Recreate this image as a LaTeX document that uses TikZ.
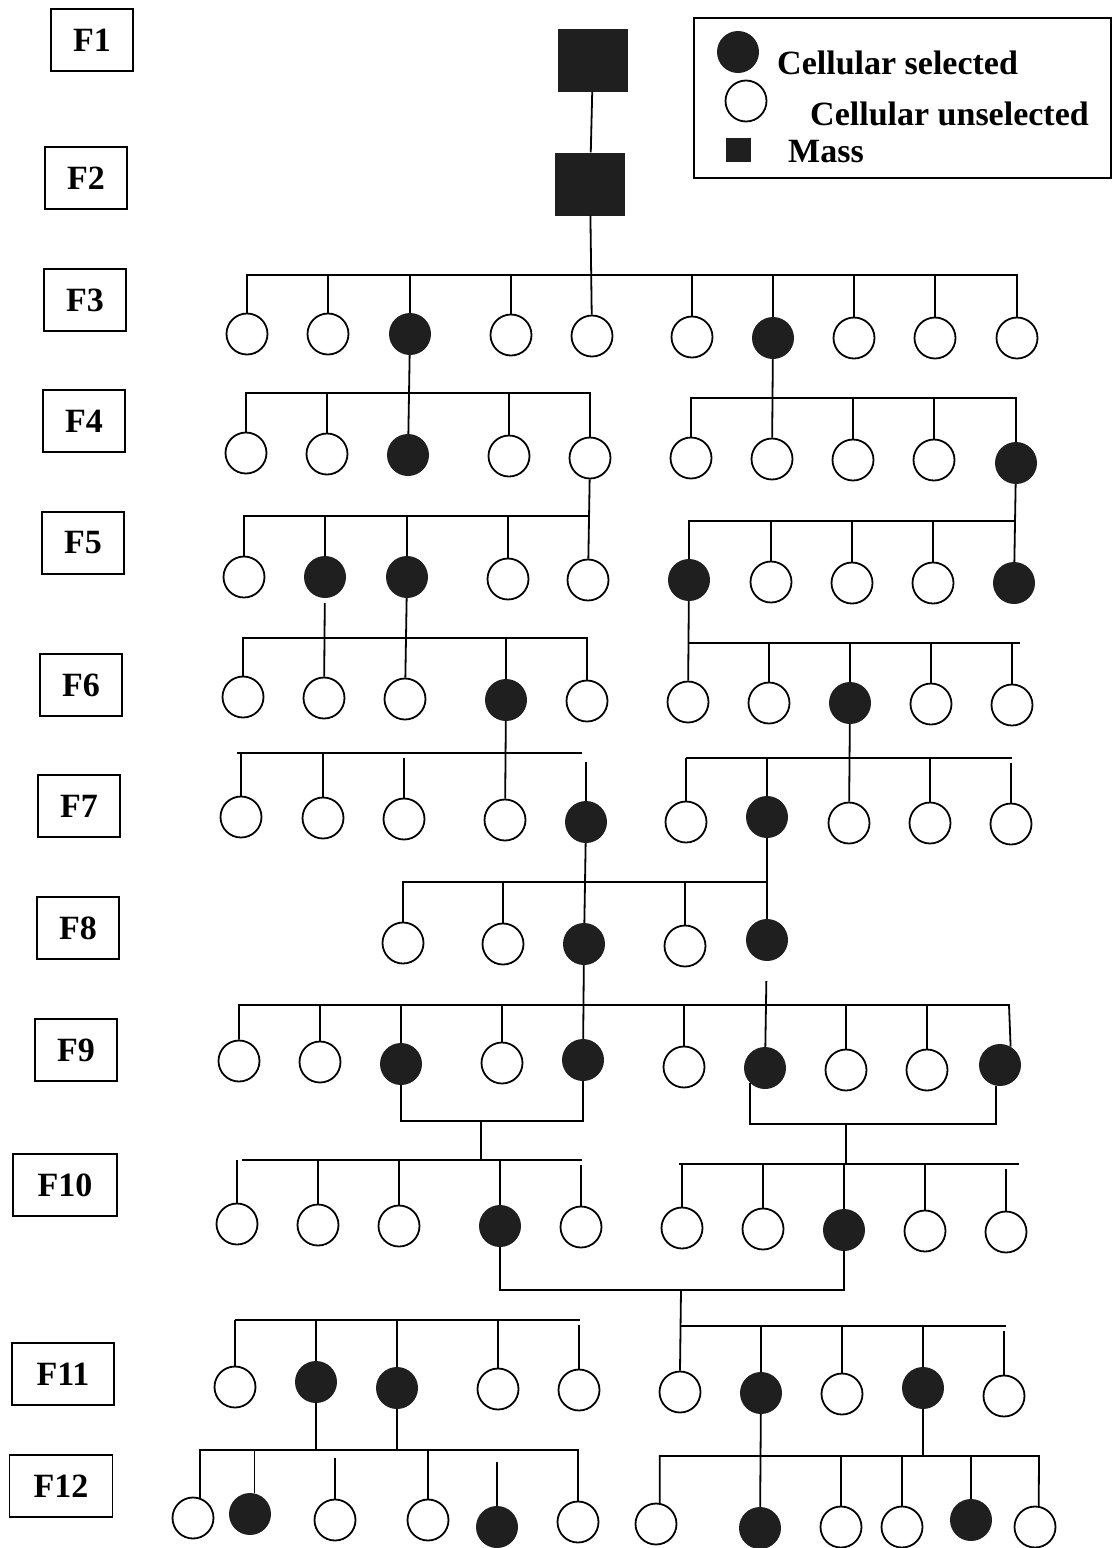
\documentclass[tikz,border=0pt]{standalone}
\usepackage{fontspec}
\setmainfont{Liberation Serif}
\usepackage{tikz}
\tikzset{
  gen/.style={draw, line width=1.8pt, minimum width=82pt, minimum height=62pt, inner sep=0pt, font=\fontsize{34}{40}\selectfont\bfseries},
  sel/.style={circle, fill=black!88, minimum size=42pt, inner sep=0pt},
  uns/.style={circle, draw, line width=1.8pt, fill=white, minimum size=41pt, inner sep=0pt},
  mass/.style={fill=black!88, minimum width=70pt, minimum height=63pt, inner sep=0pt},
  legbox/.style={draw, line width=1.8pt, minimum width=417pt, minimum height=160pt, inner sep=0pt},
  legtxt/.style={anchor=base west, inner sep=0pt, font=\fontsize{34}{40}\selectfont\bfseries},
  link/.style={line width=1.8pt},
  gapstem/.style={link, shorten >=5pt},
}

\begin{document}
\begin{tikzpicture}[x=1pt, y=-1pt]
\useasboundingbox (0,0) rectangle (1113,1548);
% generation labels
\node[gen] (f1) at (92,40) {F1};
\node[gen] (f2) at (86,178) {F2};
\node[gen] (f3) at (85,300) {F3};
\node[gen] (f4) at (84,421) {F4};
\node[gen] (f5) at (83,543) {F5};
\node[gen] (f6) at (81,685) {F6};
\node[gen] (f7) at (79,806) {F7};
\node[gen] (f8) at (78,928) {F8};
\node[gen] (f9) at (76,1050) {F9};
\node[gen, minimum width=104pt] (f10) at (65,1185) {F10};
\node[gen, minimum width=102pt] (f11) at (63,1374) {F11};
\node[gen, minimum width=103pt] (f12) at (61,1486) {F12};
% legend
\node[legbox] (leg) at (902.5,98) {};
\node[sel] (lsel) at (738,52) {};
\node[uns] (luns) at (746,101) {};
\node[fill=black!88, minimum width=25pt, minimum height=24pt, inner sep=0pt] (lmass) at (738,150) {};
\node[legtxt] (tsel) at (777,74) {Cellular selected};
\node[legtxt] (tuns) at (810,125) {Cellular unselected};
\node[legtxt] (tmass) at (788,162) {Mass};
% F1, F2
\node[mass] (m1) at (593,60) {};
\node[mass] (m2) at (590,184) {};
\draw[link] (m1) -- (m2);
% F3
\node[uns] (c3a) at (247,334) {};
\node[uns] (c3b) at (328,334) {};
\node[sel] (c3c) at (410,334) {};
\node[uns] (c3d) at (511,335) {};
\node[uns] (c3e) at (592,336) {};
\node[uns] (c3f) at (692,337) {};
\node[sel] (c3g) at (773,338) {};
\node[uns] (c3h) at (854,338) {};
\node[uns] (c3i) at (935,338) {};
\node[uns] (c3j) at (1017,338) {};
\coordinate (b3) at (592,275);
\draw[link] (c3a.north) |- (b3) -| (c3j.north);
\draw[link] (m2) -- (c3e);
\draw[link] (c3b.north) -- (c3b.north |- b3) (c3c.north) -- (c3c.north |- b3) (c3d.north) -- (c3d.north |- b3)
  (c3f.north) -- (c3f.north |- b3) (c3g.north) -- (c3g.north |- b3) (c3h.north) -- (c3h.north |- b3) (c3i.north) -- (c3i.north |- b3);
% F4
\node[uns] (c4a) at (246,453) {};
\node[uns] (c4b) at (327,454) {};
\node[sel] (c4c) at (408,455) {};
\node[uns] (c4d) at (509,456) {};
\node[uns] (c4e) at (590,458) {};
\node[uns] (c4f) at (691,458) {};
\node[uns] (c4g) at (772,459) {};
\node[uns] (c4h) at (853,460) {};
\node[uns] (c4i) at (934,460) {};
\node[sel] (c4j) at (1016,463) {};
\coordinate (b4l) at (408,393);
\coordinate (b4r) at (772,398);
\draw[link] (c4a.north) |- (b4l) -| (c4e.north);
\draw[link] (c4f.north) |- (b4r) -| (c4j.north);
\draw[link] (c3c) -- (c4c);
\draw[link] (c3g) -- (c4g);
\draw[link] (c4b.north) -- (c4b.north |- b4l) (c4d.north) -- (c4d.north |- b4l)
  (c4h.north) -- (c4h.north |- b4r) (c4i.north) -- (c4i.north |- b4r);
% F5
\node[uns] (c5a) at (244,577) {};
\node[sel] (c5b) at (325,577) {};
\node[sel] (c5c) at (407,577) {};
\node[uns] (c5d) at (508,579) {};
\node[uns] (c5e) at (588,580) {};
\node[sel] (c5f) at (689,580) {};
\node[uns] (c5g) at (771,582) {};
\node[uns] (c5h) at (852,583) {};
\node[uns] (c5i) at (933,583) {};
\node[sel] (c5j) at (1014,583) {};
\coordinate (b5l) at (588,516);
\coordinate (b5r) at (1014,521);
\draw[link] (c5a.north) |- (b5l);
\draw[link] (c5f.north) |- (b5r);
\draw[link] (c4e) -- (c5e);
\draw[link] (c4j) -- (c5j);
\draw[link] (c5b.north) -- (c5b.north |- b5l) (c5c.north) -- (c5c.north |- b5l) (c5d.north) -- (c5d.north |- b5l)
  (c5g.north) -- (c5g.north |- b5r) (c5h.north) -- (c5h.north |- b5r) (c5i.north) -- (c5i.north |- b5r);
% F6
\node[uns] (c6a) at (243,697) {};
\node[uns] (c6b) at (324,698) {};
\node[uns] (c6c) at (405,699) {};
\node[sel] (c6d) at (506,700) {};
\node[uns] (c6e) at (587,701) {};
\node[uns] (c6f) at (688,702) {};
\node[uns] (c6g) at (769,703) {};
\node[sel] (c6h) at (850,703) {};
\node[uns] (c6i) at (931,704) {};
\node[uns] (c6j) at (1012,705) {};
\coordinate (b6l) at (587,638);
\coordinate (b6r) at (1020,643);
\draw[link] (c6a.north) |- (b6l) -- (c6e.north);
\draw[link] (c6f.north |- b6r) -- (b6r);
\draw[link, shorten <=5pt] (c5b) -- (c6b);
\draw[link] (c5c) -- (c6c);
\draw[link] (c5f) -- (c6f);
\draw[link] (c6d.north) -- (c6d.north |- b6l)
  (c6g.north) -- (c6g.north |- b6r) (c6h.north) -- (c6h.north |- b6r) (c6i.north) -- (c6i.north |- b6r) (c6j.north) -- (c6j.north |- b6r);
% F7
\node[uns] (c7a) at (241,817) {};
\node[uns] (c7b) at (323,818) {};
\node[uns] (c7c) at (404,819) {};
\node[uns] (c7d) at (505,820) {};
\node[sel] (c7e) at (586,822) {};
\node[uns] (c7f) at (686,822) {};
\node[sel] (c7g) at (767,817) {};
\node[uns] (c7h) at (849,823) {};
\node[uns] (c7i) at (930,823) {};
\node[uns] (c7j) at (1011,824) {};
\coordinate (b7l) at (237,753);
\coordinate (b7le) at (582,753);
\coordinate (b7r) at (686,758);
\coordinate (b7re) at (1012,758);
\draw[link] (b7l) -- (b7le);
\draw[link] (b7r) -- (b7re);
\draw[link] (c6d) -- (c7d);
\draw[link] (c6h) -- (c7h);
\draw[gapstem] (c7a.north) -- (c7a.north |- b7l) (c7b.north) -- (c7b.north |- b7l) (c7c.north) -- (c7c.north |- b7l);
\draw[link, shorten >=9pt] (c7e.north) -- (c7e.north |- b7l);
\draw[gapstem] (c7f.north) -- (c7f.north |- b7r) (c7g.north) -- (c7g.north |- b7r) (c7i.north) -- (c7i.north |- b7r) (c7j.north) -- (c7j.north |- b7r);
% F8
\node[uns] (c8a) at (403,943) {};
\node[uns] (c8b) at (503,944) {};
\node[sel] (c8c) at (584,944) {};
\node[uns] (c8d) at (685,946) {};
\node[sel] (c8e) at (767,940) {};
\coordinate (b8e) at (767,882);
\draw[link] (c8a.north) |- (b8e);
\draw[link] (c7e) -- (c8c);
\draw[link] (c7g) -- (c8e);
\draw[link] (c8b.north) -- (c8b.north |- b8e) (c8d.north) -- (c8d.north |- b8e);
% F9
\node[uns] (c9a) at (239,1061) {};
\node[uns] (c9b) at (320,1062) {};
\node[sel] (c9c) at (401,1064) {};
\node[uns] (c9d) at (502,1063) {};
\node[sel] (c9e) at (583,1060) {};
\node[uns] (c9f) at (684,1067) {};
\node[sel] (c9g) at (765,1068) {};
\node[uns] (c9h) at (846,1070) {};
\node[uns] (c9i) at (927,1070) {};
\node[sel] (c9j) at (1000,1065) {};
\coordinate (b9) at (1009,1005);
\draw[link] (c9a.north) |- (b9) -- (c9j.60);
\draw[link] (c8c) -- (c9e);
\draw[link, shorten <=20pt] (c8e) -- (c9g);
\draw[link] (c9b.north) -- (c9b.north |- b9) (c9c.north) -- (c9c.north |- b9) (c9d.north) -- (c9d.north |- b9)
  (c9f.north) -- (c9f.north |- b9) (c9h.north) -- (c9h.north |- b9) (c9i.north) -- (c9i.north |- b9);
\coordinate (j9l) at (481,1121);
\coordinate (j9r) at (846,1124);
\draw[link] (c9c.south) |- (j9l) -| (c9e.south);
\draw[link] (c9g.225) |- (j9r) -| (c9j.260);
% F10
\node[uns] (c10a) at (237,1224) {};
\node[uns] (c10b) at (318,1225) {};
\node[uns] (c10c) at (399,1226) {};
\node[sel] (c10d) at (500,1226) {};
\node[uns] (c10e) at (581,1227) {};
\node[uns] (c10f) at (682,1228) {};
\node[uns] (c10g) at (763,1229) {};
\node[sel] (c10h) at (844,1230) {};
\node[uns] (c10i) at (925,1231) {};
\node[uns] (c10j) at (1006,1232) {};
\coordinate (b10l) at (242,1160);
\coordinate (b10le) at (582,1160);
\coordinate (b10r) at (679,1164);
\coordinate (b10re) at (1019,1164);
\draw[link] (b10l) -- (b10le);
\draw[link] (b10r) -- (b10re);
\draw[link] (j9l) -- (j9l |- b10l);
\draw[link] (j9r) -- (j9r |- b10r);
\draw[gapstem] (c10a.north) -- (c10a.north |- b10l) (c10b.north) -- (c10b.north |- b10l) (c10c.north) -- (c10c.north |- b10l)
  (c10d.north) -- (c10d.north |- b10l) (c10e.north) -- (c10e.north |- b10l);
\draw[gapstem] (c10f.north) -- (c10f.north |- b10r) (c10g.north) -- (c10g.north |- b10r) (c10h.north) -- (c10h.north |- b10r)
  (c10i.north) -- (c10i.north |- b10r) (c10j.north) -- (c10j.north |- b10r);
\coordinate (j10) at (681,1290);
\draw[link] (c10d.south) |- (j10) -| (c10h.south);
% F11
\node[uns] (c11a) at (235,1387) {};
\node[sel] (c11b) at (316,1382) {};
\node[sel] (c11c) at (397,1388) {};
\node[uns] (c11d) at (498,1389) {};
\node[uns] (c11e) at (579,1390) {};
\node[uns] (c11f) at (680,1392) {};
\node[sel] (c11g) at (761,1393) {};
\node[uns] (c11h) at (842,1394) {};
\node[sel] (c11i) at (923,1388) {};
\node[uns] (c11j) at (1004,1396) {};
\coordinate (b11l) at (235,1320);
\coordinate (b11le) at (580,1320);
\coordinate (b11r) at (1006,1326);
\draw[link] (b11l) -- (b11le);
\draw[link] (j10) -- (c11f.north);
\draw[link] (j10 |- b11r) -- (b11r);
\draw[gapstem] (c11a.north) -- (c11a.north |- b11l) (c11b.north) -- (c11b.north |- b11l) (c11c.north) -- (c11c.north |- b11l)
  (c11d.north) -- (c11d.north |- b11l) (c11e.north) -- (c11e.north |- b11l);
\draw[gapstem] (c11g.north) -- (c11g.north |- b11r) (c11h.north) -- (c11h.north |- b11r) (c11i.north) -- (c11i.north |- b11r)
  (c11j.north) -- (c11j.north |- b11r);
% F12
\node[uns] (c12a) at (193,1518) {};
\node[sel] (c12b) at (250,1514) {};
\node[uns] (c12c) at (335,1520) {};
\node[uns] (c12d) at (428,1520) {};
\node[sel] (c12e) at (497,1527) {};
\node[uns] (c12f) at (578,1522) {};
\node[uns] (c12g) at (656,1524) {};
\node[sel] (c12h) at (760,1528) {};
\node[uns] (c12i) at (841,1527) {};
\node[uns] (c12j) at (902,1527) {};
\node[sel] (c12k) at (971,1520) {};
\node[uns] (c12l) at (1035,1527) {};
\coordinate (b12le) at (578,1450);
\coordinate (b12re) at (1039,1456);
\draw[link] (c12a.70) |- (b12le) -- (c12f.north);
\draw[link] (c12g.80) |- (b12re) -- (c12l.80);
\draw[link] (c11b) -- (c11b |- b12le);
\draw[link] (c11c) -- (c11c |- b12le);
\draw[link] (c11g) -- (c12h);
\draw[link] (c11i) -- (c11i |- b12re);
\draw[link] (c12b.78) -- (c12b.78 |- b12le) (c12d.north) -- (c12d.north |- b12le);
\draw[link, shorten >=8pt] (c12c.north) -- (c12c.north |- b12le);
\draw[link, shorten >=12pt] (c12e.north) -- (c12e.north |- b12le);
\draw[link] (c12i.north) -- (c12i.north |- b12re) (c12j.north) -- (c12j.north |- b12re) (c12k.north) -- (c12k.north |- b12re);
\end{tikzpicture}
\end{document}
